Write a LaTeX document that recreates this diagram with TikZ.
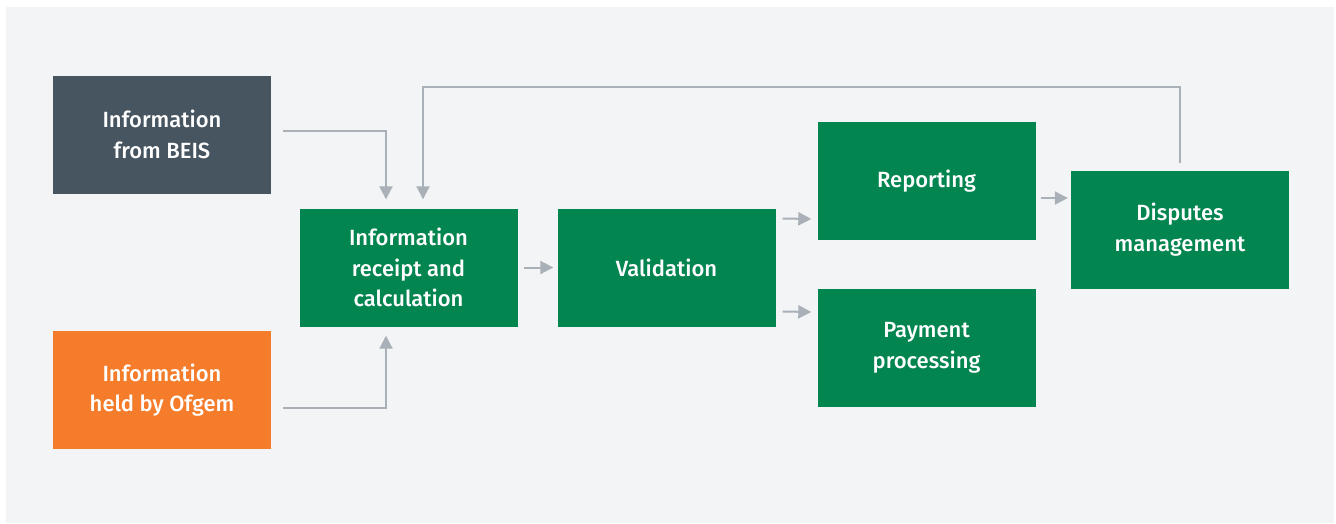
\documentclass[tikz,border=0pt]{standalone}
\usepackage{fontspec}
\setmainfont{Fira Sans}[BoldFont={Fira Sans Medium}]
\usetikzlibrary{arrows.meta}
\usetikzlibrary{positioning}

\definecolor{panelgray}{HTML}{F3F4F6}
\definecolor{slate}{HTML}{475560}
\definecolor{ofgemorange}{HTML}{F47C2A}
\definecolor{stepgreen}{HTML}{038550}
\definecolor{linkgray}{HTML}{A9B0B8}

\tikzset{
    box/.style={minimum width=218pt,minimum height=118pt,inner sep=0pt,
        text=white,align=center,font=\fontsize{22}{30.5}\selectfont\bfseries},
    greenbox/.style={box,fill=stepgreen},
    link/.style={draw=linkgray,line width=2pt,
        -{Triangle[length=13pt,width=13pt]}}
}

\begin{document}
\begin{tikzpicture}[x=1pt,y=-1pt,on grid]
    \useasboundingbox (0,0) rectangle (1336,523);
    \fill[panelgray] (6,7) rectangle (1334,523);
    % sources
    \node[box,fill=slate] (beis) at (162,134.5) {Information\\from BEIS};
    \node[box,fill=ofgemorange] (ofgem) at (162,390) {Information\\held by Ofgem};
    % process
    \node[greenbox] (receipt) at (408.5,267.5) {Information\\receipt and\\calculation};
    \node[greenbox,right=258pt of receipt] (valid) {Validation};
    \node[greenbox] (report) at (926.5,181) {Reporting};
    \node[greenbox] (payment) at (926.5,348) {Payment\\processing};
    \node[greenbox] (disputes) at (1180,229.5) {Disputes\\management};

    % (yshift is in page units: up is positive)
    \draw[link] ([xshift=12pt,yshift=3.5pt]beis.east) -| ([xshift=-22.5pt,yshift=9pt]receipt.north);
    \draw[link] ([xshift=12pt,yshift=-18pt]ofgem.east) -| ([xshift=-22.5pt,yshift=-9pt]receipt.south);
    \draw[link] ([yshift=7pt]disputes.north) |- (423,87) -- ([xshift=14.5pt,yshift=9pt]receipt.north);
    \draw[link] ([xshift=6pt]receipt.east) -- ([xshift=-4pt]valid.west);
    \draw[link] ([xshift=7pt,yshift=49pt]valid.east) -- ([xshift=-6pt,yshift=-38pt]report.west);
    \draw[link] ([xshift=7pt,yshift=-44pt]valid.east) -- ([xshift=-6pt,yshift=36pt]payment.west);
    \draw[link] ([xshift=5pt,yshift=-17pt]report.east) -- ([xshift=-3pt,yshift=31.5pt]disputes.west);
\end{tikzpicture}
\end{document}
